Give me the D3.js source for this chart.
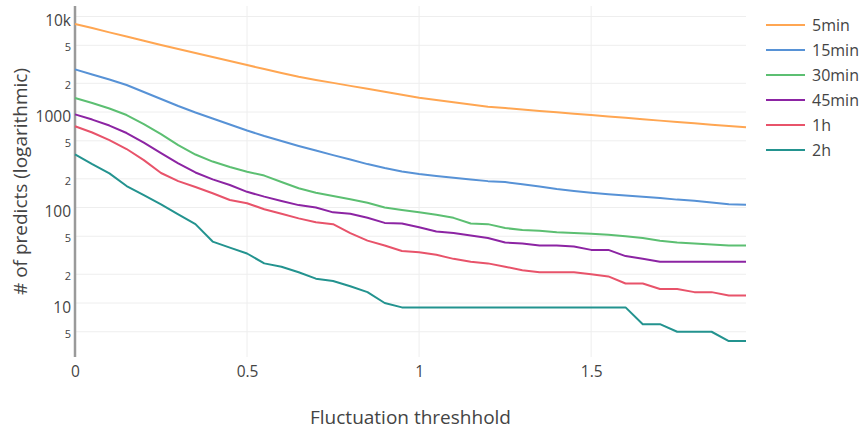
<!DOCTYPE html>
<html>
<head>
<meta charset="utf-8">
<script src="https://cdn.jsdelivr.net/npm/d3@7"></script>
<style>
  body { margin: 0; background: #fff; }
  text { font-family: "Open Sans", sans-serif; fill: #444; }
</style>
</head>
<body>
<script>
// fluctuation threshold vs number of predicts, one line per horizon

let thresholds = [0, 0.05, 0.1, 0.15, 0.2, 0.25, 0.3, 0.35, 0.4, 0.45,
                  0.5, 0.55, 0.6, 0.65, 0.7, 0.75, 0.8, 0.85, 0.9, 0.95,
                  1, 1.05, 1.1, 1.15, 1.2, 1.25, 1.3, 1.35, 1.4, 1.45,
                  1.5, 1.55, 1.6, 1.65, 1.7, 1.75, 1.8, 1.85, 1.9, 1.95]

let seriesNames = ["5min", "15min", "30min", "45min", "1h", "2h"]

let predicts5min = [8350, 7580, 6830, 6170, 5580, 5030, 4570, 4150, 3770, 3420,
                    3105, 2820, 2560, 2340, 2170, 2020, 1880, 1750, 1630, 1515,
                    1410, 1335, 1265, 1200, 1137, 1100, 1062, 1027, 995, 962,
                    930, 899, 870, 841, 813, 786, 762, 738, 715, 692]
let predicts15min = [2800, 2470, 2190, 1918, 1620, 1368, 1156, 988, 855, 740,
                     640, 561, 497, 441, 395, 354, 318, 285, 259, 238,
                     224, 214, 205, 197, 189, 185, 175, 166, 156, 149,
                     143, 138, 134, 130, 126, 121, 118, 113, 108, 107]
let predicts30min = [1402, 1243, 1088, 930, 749, 588, 451, 359, 303, 266,
                     237, 216, 185, 159, 143, 132, 122, 112, 100, 94,
                     89, 84, 78, 68, 67, 61, 58, 57, 55, 54,
                     53, 52, 50, 48, 45, 43, 42, 41, 40, 40]
let predicts45min = [946, 834, 722, 603, 479, 372, 290, 233, 197, 172,
                     146, 130, 117, 106, 100, 89, 86, 78, 69, 68,
                     62, 56, 54, 51, 48, 43, 42, 40, 40, 39,
                     36, 36, 31, 29, 27, 27, 27, 27, 27, 27]
let predicts1h = [709, 610, 509, 410, 314, 230, 189, 164, 141, 120,
                  111, 96, 86, 77, 70, 67, 54, 45, 40, 35,
                  34, 32, 29, 27, 26, 24, 22, 21, 21, 21,
                  20, 19, 16, 16, 14, 14, 13, 13, 12, 12]
let predicts2h = [361, 285, 228, 168, 135, 108, 85, 67, 44, 38,
                  33, 26, 24, 21, 18, 17, 15, 13, 10, 9,
                  9, 9, 9, 9, 9, 9, 9, 9, 9, 9,
                  9, 9, 9, 6, 6, 5, 5, 5, 4, 4]

let xTicks = [0, 0.5, 1, 1.5]
let xTickLabels = ["0", "0.5", "1", "1.5"]
let yMajorTicks = [10, 100, 1000, 10000]
let yMajorLabels = ["10", "100", "1000", "10k"]
let yMinorTicks = [5, 20, 50, 200, 500, 2000, 5000]
let yMinorLabels = ["5", "2", "5", "2", "5", "2", "5"]

let colors = ["#ffa652", "#5792d6", "#5cbf72", "#8c24a3", "#e8536a", "#23938f"]

let allSeries = [predicts5min, predicts15min, predicts30min, predicts45min, predicts1h, predicts2h]

let w = 863
let h = 432
let mLeft = 75, mRight = 746, mTop = 6, mBottom = 357

let svg = d3.select("body")
    .append("svg")
    .attr("width", w)
    .attr("height", h)

let x = d3.scaleLinear().domain([0, 1.95]).range([mLeft, mRight])
let y = d3.scaleLog().domain([2.72, 12900]).range([mBottom, mTop])

// grid
let allY = yMajorTicks.concat(yMinorTicks)
svg.append("g")
    .selectAll("line")
    .data(allY)
    .enter()
    .append("line")
        .attr("x1", mLeft)
        .attr("x2", mRight)
        .attr("y1", d => y(d))
        .attr("y2", d => y(d))
        .attr("stroke", "#eee")
        .attr("stroke-width", 1)

svg.append("g")
    .selectAll("line")
    .data(xTicks.slice(1))
    .enter()
    .append("line")
        .attr("x1", d => x(d))
        .attr("x2", d => x(d))
        .attr("y1", mTop)
        .attr("y2", mBottom)
        .attr("stroke", "#eee")
        .attr("stroke-width", 1)

// x axis labels
let xAxis = d3.axisBottom(x)
    .tickValues(xTicks)
    .tickFormat((d, i) => xTickLabels[i])
    .tickSize(0)
    .tickPadding(0)

let gx = svg.append("g")
    .attr("transform", `translate(0,${mBottom})`)
    .call(xAxis)
gx.select(".domain").remove()
gx.selectAll("text")
    .attr("y", 0)
    .attr("dy", 0)
    .attr("transform", "translate(0,20)")
    .attr("font-size", "15.5px")
    .attr("fill", "#444")

// y axis labels, majors and minors in different sizes
let yAxis = d3.axisLeft(y)
    .tickValues(allY)
    .tickFormat(d => {
        let i = yMajorTicks.indexOf(d)
        if (i >= 0) return yMajorLabels[i]
        return yMinorLabels[yMinorTicks.indexOf(d)]
    })
    .tickSize(0)
    .tickPadding(4)

let gy = svg.append("g")
    .attr("transform", `translate(${mLeft},0)`)
    .call(yAxis)
gy.select(".domain").remove()
gy.selectAll(".tick text")
    .attr("dy", d => yMajorTicks.includes(d) ? "0.58em" : "0.5em")
    .attr("font-size", d => yMajorTicks.includes(d) ? "15.5px" : "11px")
    .attr("fill", "#444")

// zero line on the left
svg.append("line")
    .attr("x1", x(0))
    .attr("x2", x(0))
    .attr("y1", mTop)
    .attr("y2", mBottom)
    .attr("stroke", "#9a9a9a")
    .attr("stroke-width", 2.5)

// lines
let line = d3.line()
    .x((d, i) => x(thresholds[i]))
    .y(d => y(d))

svg.append("g")
    .selectAll("path")
    .data(allSeries)
    .enter()
    .append("path")
        .attr("d", line)
        .attr("fill", "none")
        .attr("stroke", (d, i) => colors[i])
        .attr("stroke-width", 2)
        .attr("stroke-linejoin", "round")

// titles
svg.append("text")
    .text("Fluctuation threshhold")
    .attr("x", (mLeft + mRight) / 2)
    .attr("y", 424)
    .attr("text-anchor", "middle")
    .attr("font-size", "19px")

svg.append("text")
    .text("# of predicts (logarithmic)")
    .attr("transform", `translate(27,${(mTop + mBottom) / 2}) rotate(-90)`)
    .attr("text-anchor", "middle")
    .attr("font-size", "19px")

// legend
let legend = svg.append("g")
    .selectAll("g")
    .data(seriesNames)
    .enter()
    .append("g")
        .attr("transform", (d, i) => `translate(766,${25 + i * 25})`)

legend.append("line")
    .attr("x1", 0)
    .attr("x2", 39)
    .attr("stroke", (d, i) => colors[i])
    .attr("stroke-width", 2)

legend.append("text")
    .text(d => d)
    .attr("x", 46)
    .attr("dy", "0.36em")
    .attr("font-size", "16px")
</script>
</body>
</html>
